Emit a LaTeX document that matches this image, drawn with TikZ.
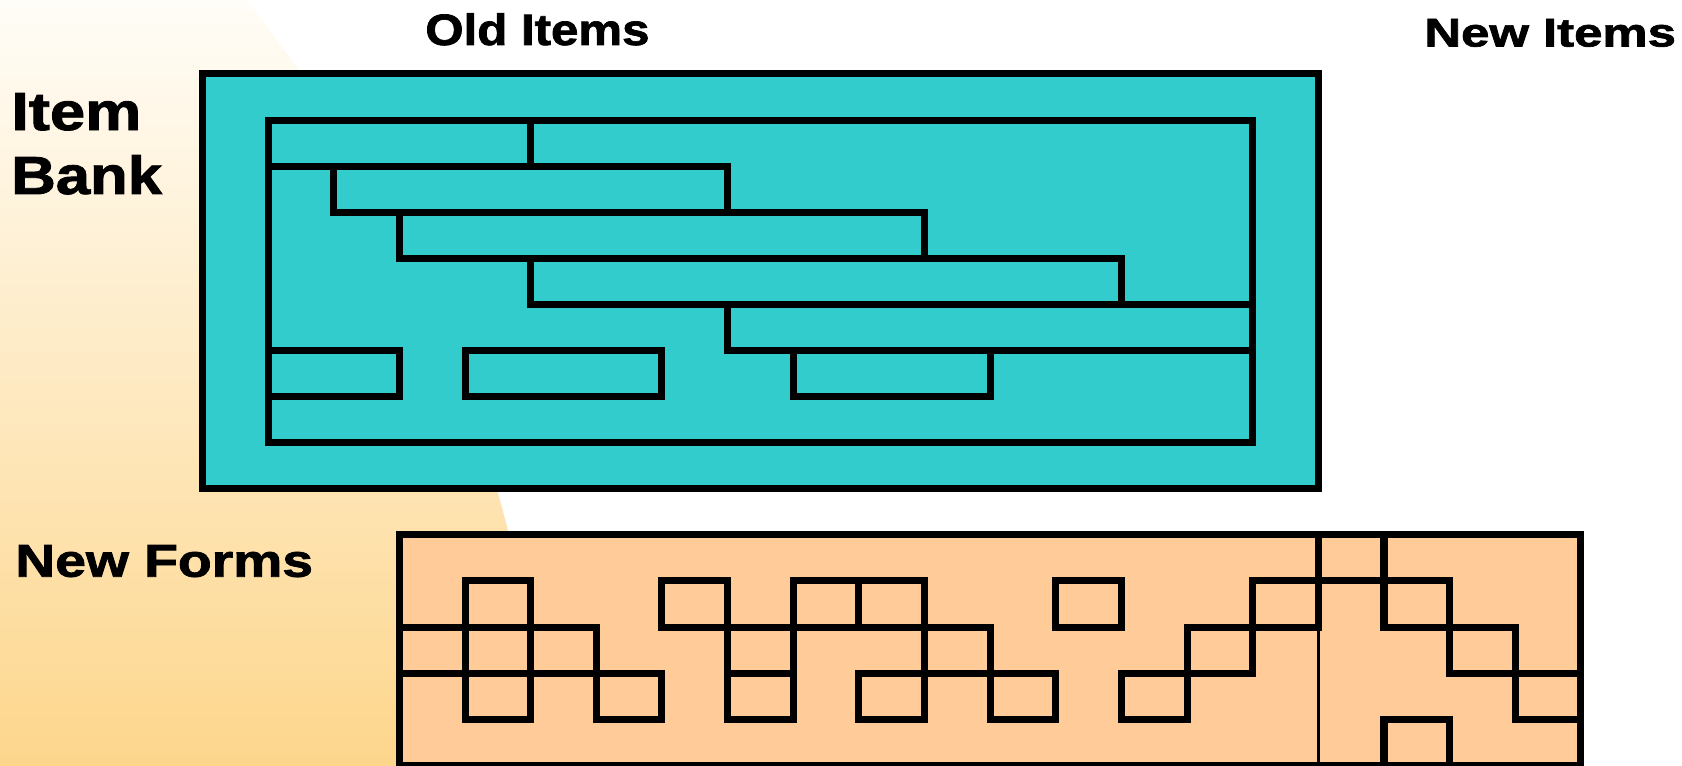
\documentclass[tikz,border=0pt]{standalone}
\usepackage{fontspec}
\setmainfont{Liberation Sans}[BoldFeatures={FakeBold=1.6}]
\usepackage{graphicx}
\usepackage{tikz}
\definecolor{MyTeal}{HTML}{33CCCC}
\definecolor{MyPeach}{HTML}{FFCC99}
\definecolor{MyCream}{HTML}{FFFDF8}
\definecolor{MySand}{HTML}{FDD68C}
\tikzset{
	bankline/.style={line width=4pt},
	formline/.style={line width=4pt},
	title/.style={inner sep=0pt, anchor=base west, align=left}
}
\newcommand{\widen}[2]{\scalebox{#1}[1]{#2}}

\begin{document}
\begin{tikzpicture}[x=0.02cm, y=-0.02cm]
%		\draw [step=50, gray, thin, opacity=0.5] (0,0) grid (1682,766);
		\useasboundingbox (0,0) rectangle (1682,766);
		\fill[white] (0,0) rectangle (1682,766);
		
		\coordinate (C) at (-854, 872);
		
		\begin{scope}
			\clip (C) circle (28.08cm);
			\shade[top color=MyCream, bottom color=MySand] (0,0) rectangle (1682,766);
		\end{scope}
		
		\begin{scope}[shift={(5.364cm,-2.402cm)}, x=1.313cm, y=-0.922cm]
%			\draw [step=1, black, opacity=0.3] (-1,-1) grid (20,14);
			
			% item bank
			\draw[bankline, fill=MyTeal] (-1,-1) rectangle (16,8);
			\draw[bankline] (0,0) rectangle (15,7);
			\draw[bankline] (4,0) -- (4,1);
			\draw[bankline] (0,1) -- (1,1);
			\draw[bankline] (1,1) rectangle (7,2);
			\draw[bankline] (2,2) rectangle (10,3);
			\draw[bankline] (4,3) rectangle (13,4);
			\draw[bankline] (7,4) rectangle (15,5);
			\draw[bankline] (0,5) rectangle (2,6);
			\draw[bankline] (3,5) rectangle (6,6);
			\draw[bankline] (8,5) rectangle (11,6);
			
			% new forms
			\draw[formline, fill=MyPeach] (2,9) rectangle (20,14);
			\draw[formline] (16,9) rectangle ++(1,1);
			\draw[formline] (3,10) rectangle ++(1,1) (6,10) rectangle ++(1,1)
				(8,10) rectangle ++(1,1) (9,10) rectangle ++(1,1)
				(12,10) rectangle ++(1,1) (15,10) rectangle ++(1,1)
				(17,10) rectangle ++(1,1);
			\draw[formline] (2,11) rectangle ++(1,1) (3,11) rectangle ++(1,1)
				(4,11) rectangle ++(1,1) (7,11) rectangle ++(1,1)
				(10,11) rectangle ++(1,1) (14,11) rectangle ++(1,1)
				(18,11) rectangle ++(1,1);
			\draw[formline] (3,12) rectangle ++(1,1) (5,12) rectangle ++(1,1)
				(7,12) rectangle ++(1,1) (9,12) rectangle ++(1,1)
				(11,12) rectangle ++(1,1) (13,12) rectangle ++(1,1)
				(19,12) rectangle ++(1,1);
			\draw[formline] (17,13) rectangle ++(1,1);
			\draw[line width=1.7pt] (16,11) -- (16,14);
		\end{scope}
		
		\node[title, font=\fontsize{25}{30}\selectfont\bfseries] (old) at (425,45) {\widen{1.12}{Old Items}};
		\node[title, font=\fontsize{22.8}{27}\selectfont\bfseries] (new) at (1424,46.5) {\widen{1.27}{New Items}};
		\node[title, font=\fontsize{30.5}{36.4}\selectfont\bfseries] (bank) at (11,194) {\widen{1.18}{Item}\\\widen{1.15}{Bank}};
		\node[title, font=\fontsize{26.2}{31}\selectfont\bfseries] (forms) at (15,576.7) {\widen{1.2}{New Forms}};
		
	\end{tikzpicture}
\end{document}
